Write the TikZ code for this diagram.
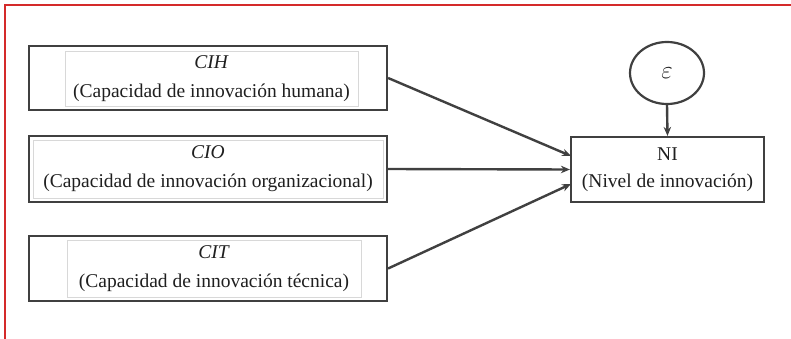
\documentclass[tikz,border=0pt]{standalone}
\usepackage{fontspec}
\setmainfont{Liberation Serif}
\usetikzlibrary{arrows.meta,shapes.geometric}
\definecolor{frame}{HTML}{D42A2A}
\definecolor{edge}{HTML}{404040}
\definecolor{inner}{HTML}{D8D8D8}
\tikzset{
  outerbox/.style={draw=edge,line width=2.2pt,minimum width=358pt,minimum height=64pt,inner sep=0pt},
  innerbox/.style={draw=inner,line width=0.8pt,inner sep=0pt,align=center,font=\fontsize{19.5}{29}\selectfont,text=black!88},
  conn/.style={draw=edge,line width=2.4pt,-{Stealth[length=9pt,width=7.5pt]}},
}
\begin{document}
\begin{tikzpicture}[x=1pt,y=-1pt]
\useasboundingbox (0,0) rectangle (791,339);
\fill[white] (0,0) rectangle (791,339);
\draw[frame,line width=2pt] (4.5,339) -- (4.5,5) -- (791,5);
% left boxes
\node[outerbox] (cih) at (208,78) {};
\node[innerbox,minimum width=293pt,minimum height=55pt] (cihin) at (211.5,78.5) {\textit{CIH}\\(Capacidad de innovación humana)};
\node[outerbox,minimum height=66pt] (cio) at (208,169) {};
\node[innerbox,minimum width=350pt,minimum height=58pt] (cioin) at (208,169) {\textit{CIO}\\(Capacidad de innovación organizacional)};
\node[outerbox,minimum height=65pt] (cit) at (208,268.5) {};
\node[innerbox,minimum width=294pt,minimum height=57pt] (citin) at (214,268.5) {\textit{CIT}\\(Capacidad de innovación técnica)};
% target
\node[draw=edge,line width=2.2pt,minimum width=193pt,minimum height=65pt,inner sep=0pt,align=center,font=\fontsize{19.5}{27}\selectfont,text=black!88] (ni) at (667.5,169.5) {NI\\(Nivel de innovación)};
\node[ellipse,draw=edge,line width=2.2pt,minimum width=74pt,minimum height=62pt,inner sep=0pt,font=\fontsize{27}{30}\selectfont,text=black!88] (eps) at (667,73) {$\varepsilon$};
% connectors
\coordinate (t1) at (571,156);
\coordinate (t3) at (571,184);
\draw[conn] (cih.east) -- (t1);
\draw[conn] (cio.east) -- (ni.west);
\draw[conn] (cit.east) -- (t3);
\draw[conn] (eps.south) -- (ni.north);
\end{tikzpicture}
\end{document}
